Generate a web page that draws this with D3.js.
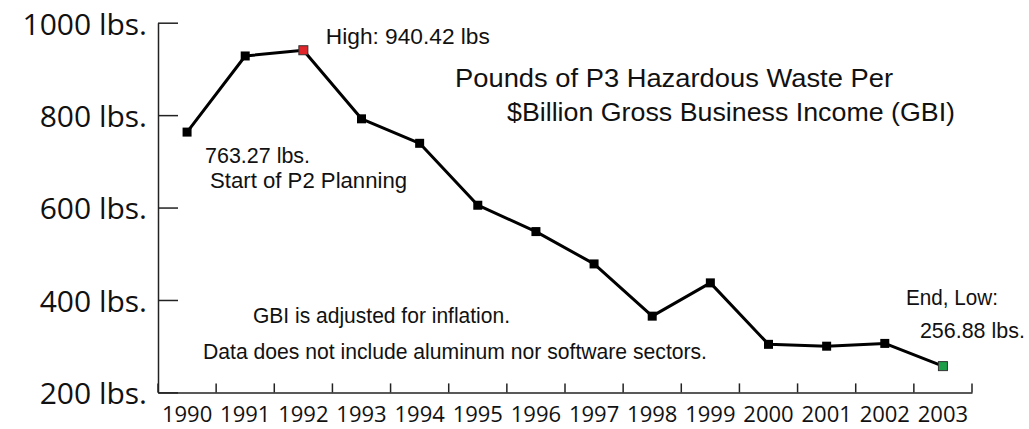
<!DOCTYPE html>
<html>
<head>
<meta charset="utf-8">
<script src="https://cdn.jsdelivr.net/npm/d3@7"></script>
<style>
  body { margin: 0; background: #fff; }
  .y.axis text { font-family: "Open Sans", sans-serif; font-size: 30px; fill: #111; }
  .x.axis text { font-family: "Open Sans", sans-serif; font-size: 22px; fill: #111; }
  .axis path, .axis line { stroke: #222; stroke-width: 1.5px; }
  .note { font-family: "Liberation Sans", Arial, sans-serif; fill: #111; }
</style>
</head>
<body>
<div id="chart"></div>
<script>
const years = ["1990", "1991", "1992", "1993", "1994", "1995", "1996",
               "1997", "1998", "1999", "2000", "2001", "2002", "2003"];
const pounds = [763.27, 928, 940.42, 792, 739, 605, 548, 478, 365, 437, 304, 300, 306, 256.88];
const yTicks = [200, 400, 600, 800, 1000];
const highYear = "1992", endYear = "2003", startYear = "1990";

const data = years.map((y, i) => ({ key: y, value: pounds[i] }));

const svg = d3.select("#chart").append("svg")
    .attr("width", 1029)
    .attr("height", 429);

// band scale: ticks sit on band edges, points at band centres
const x = d3.scaleBand().domain(years).range([158, 972]).paddingInner(0).paddingOuter(0);
const cx = d => x(d) + x.bandwidth() / 2;
const y = d3.scaleLinear().domain([200, 1000]).range([392.4, 22.7]);

// y axis, ticks pointing inwards, labels on the left
const yAxis = d3.axisLeft(y).tickValues(yTicks).tickSize(-20).tickSizeOuter(0)
    .tickPadding(11).tickFormat(d => d + " lbs.");
svg.append("g")
    .attr("class", "y axis")
    .attr("transform", "translate(158,0)")
    .call(yAxis)
    .call(g => g.selectAll("text").attr("dy", "0.38em"));

// x axis: plain line with labels centred in the bands
const xAxis = d3.axisBottom(x).tickSize(0).tickSizeOuter(0);
svg.append("g")
    .attr("class", "x axis")
    .attr("transform", "translate(0," + y(200) + ")")
    .call(xAxis)
    .call(g => g.selectAll("text").attr("y", 0).attr("dy", 29.5));

// small upward ticks on the band edges
const edges = years.map(d => x(d)).concat([x.range()[1]]);
svg.append("g").attr("class", "axis")
  .selectAll("line")
  .data(edges)
  .enter()
  .append("line")
    .attr("x1", d => d).attr("x2", d => d)
    .attr("y1", y(200)).attr("y2", y(200) - 9);

// the line
const line = d3.line().x(d => cx(d.key)).y(d => y(d.value));
svg.append("path")
    .attr("d", line(data))
    .attr("fill", "none")
    .attr("stroke", "#000")
    .attr("stroke-width", 3)
    .attr("stroke-linejoin", "round");

// markers
const ms = 9;
svg.selectAll(".pt")
    .data(data)
    .enter()
    .append("rect")
    .attr("class", "pt")
    .attr("x", d => cx(d.key) - ms / 2)
    .attr("y", d => y(d.value) - ms / 2)
    .attr("width", ms)
    .attr("height", ms)
    .attr("fill", d => d.key === highYear ? "#e0262b" : d.key === endYear ? "#1e9e49" : "#000")
    .attr("stroke", d => d.key === highYear || d.key === endYear ? "#333" : "none")
    .attr("stroke-width", 1);

// annotations
function note(txt, px, py, size, len) {
  svg.append("text")
      .attr("class", "note")
      .attr("x", px)
      .attr("y", py)
      .attr("font-size", size)
      .attr("textLength", len)
      .attr("lengthAdjust", "spacingAndGlyphs")
      .text(txt);
}

const hi = pounds[years.indexOf(highYear)];
note("High: " + hi + " lbs", cx(highYear) + 22.5, y(hi) - 6.5, 21.5, 164);

const st = pounds[years.indexOf(startYear)];
note(st + " lbs.", cx(startYear) + 18, y(st) + 31, 21.5, 105);
note("Start of P2 Planning", cx(startYear) + 23, y(st) + 56, 21.5, 197);

const lo = pounds[years.indexOf(endYear)];
note("End, Low:", cx(endYear) - 37, y(lo) - 61, 21.5, 92);
note(lo + " lbs.", cx(endYear) - 23, y(lo) - 28.5, 21.5, 105);

note("Pounds of P3 Hazardous Waste Per", 455, 87, 26, 438);
note("$Billion Gross Business Income (GBI)", 507, 121, 26, 448);

note("GBI is adjusted for inflation.", 253, 322.7, 21.5, 257);
note("Data does not include aluminum nor software sectors.", 203, 359.3, 21.5, 504);
</script>
</body>
</html>
